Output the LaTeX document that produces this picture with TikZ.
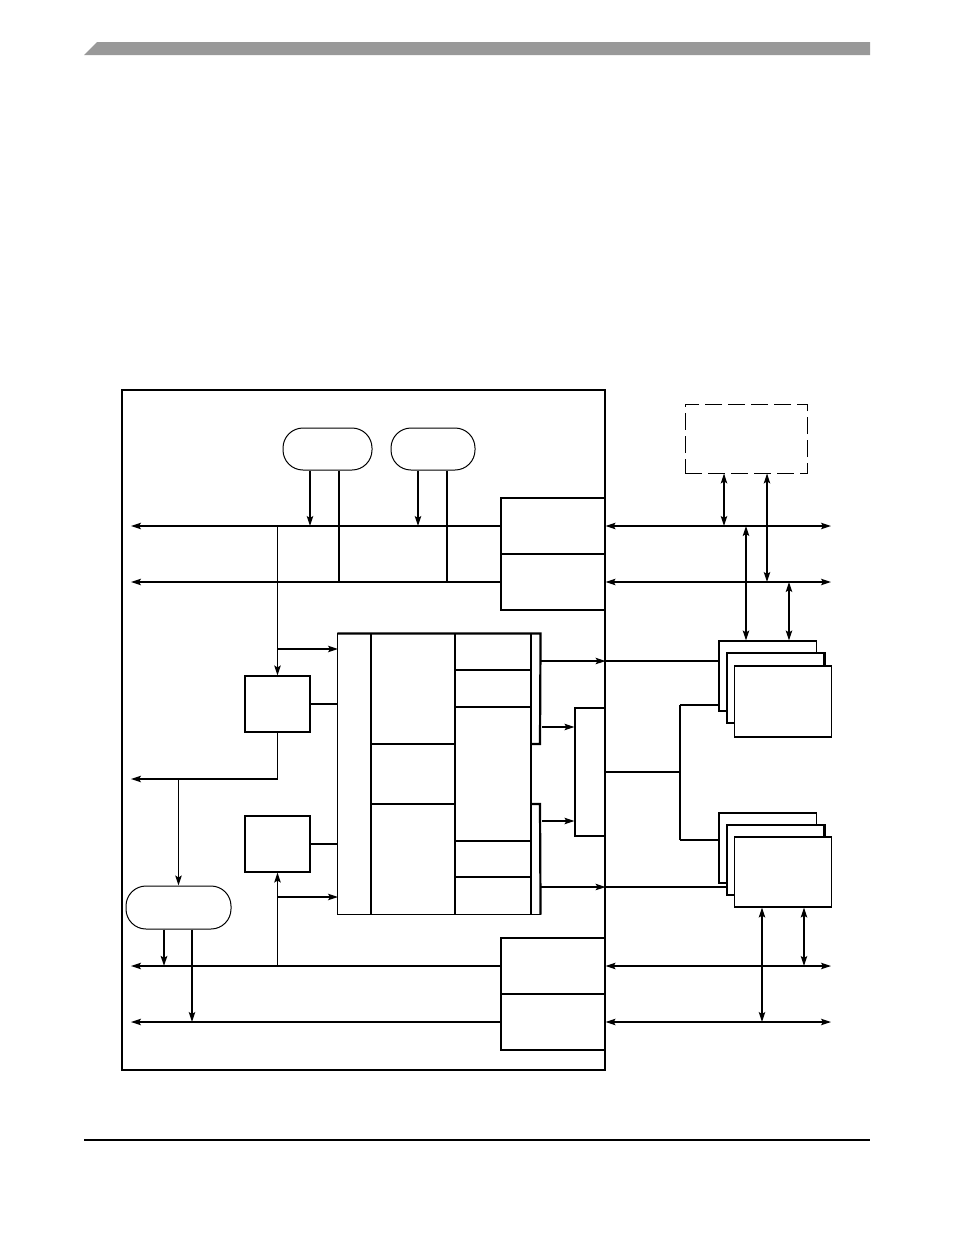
\documentclass[tikz,border=0pt]{standalone}
\usetikzlibrary{arrows.meta, calc}
\definecolor{hdrgray}{HTML}{999999}
\tikzset{
  blk/.style={draw, line width=1.1pt, fill=white, inner sep=0pt},
  pill/.style={blk, line width=1pt, rounded corners=20pt},
  heavy/.style={line width=2.2pt},
}

\begin{document}
\begin{tikzpicture}[x=1pt, y=-1pt, >={Stealth[length=10pt, width=6.5pt, inset=2pt]}, line width=1.1pt]
\useasboundingbox (0,0) rectangle (954,1235);

% Page header and footer
\fill[hdrgray] (84,55) -- (97,42) -- (870,42) -- (870,55) -- cycle;
\draw[line width=1.4pt] (84,1140) -- (870,1140);

% Outer device box
\node[blk, minimum width=483pt, minimum height=680pt] (outer) at (363.5,730) {};

% Free ends of the buses
\coordinate (tipL) at (131,0);
\coordinate (tipR) at (831,0);

% Top pills
\node[pill, minimum width=89pt, minimum height=42pt] (ovalA) at (327.5,449) {};
\node[pill, minimum width=84pt, minimum height=42pt] (ovalB) at (433,449) {};

% Port boxes
\node[blk, minimum width=104pt, minimum height=56pt] (portA) at (553,526) {};
\node[blk, minimum width=104pt, minimum height=56pt] (portB) at (553,582) {};
\node[blk, minimum width=104pt, minimum height=56pt] (portC) at (553,966) {};
\node[blk, minimum width=104pt, minimum height=56pt] (portD) at (553,1022) {};

% Internal buses
\draw[->] (portA.west) -- (portA.west -| tipL);
\draw[->] (portB.west) -- (portB.west -| tipL);
\draw[->] (portC.west) -- (portC.west -| tipL);
\draw[->] (portD.west) -- (portD.west -| tipL);

% External buses
\draw[<->] (portA.east) -- (portA.east -| tipR);
\draw[<->] (portB.east) -- (portB.east -| tipR);
\draw[<->] (portC.east) -- (portC.east -| tipR);
\draw[<->] (portD.east) -- (portD.east -| tipR);

% Pill taps
\draw[->] ([xshift=-17.5pt]ovalA.south) -- ([xshift=-17.5pt]ovalA.south |- portA.west);
\draw ([xshift=11.5pt]ovalA.south) -- ([xshift=11.5pt]ovalA.south |- portB.west);
\draw[->] ([xshift=-15pt]ovalB.south) -- ([xshift=-15pt]ovalB.south |- portA.west);
\draw ([xshift=14pt]ovalB.south) -- ([xshift=14pt]ovalB.south |- portB.west);

% Control boxes
\node[blk, minimum width=65pt, minimum height=56pt] (ctlA) at (277.5,704) {};
\node[blk, minimum width=65pt, minimum height=56pt] (ctlB) at (277.5,844) {};
\node[pill, minimum width=105pt, minimum height=43pt] (ovalC) at (178.5,907.5) {};

% Core block
\node[minimum width=202pt, minimum height=280pt, inner sep=0pt] (core) at (439,774) {};
\draw (core.north west) -- (core.south west) -- (core.south east);
\foreach \cx in {371,455,531} \draw (\cx,634) -- (\cx,914);
\foreach \cy in {670,707,841,877} \draw (455,\cy) -- (531,\cy);
\draw[heavy] (core.north west) -- (core.north east) -- (540,744) -- (531,744);
\draw[heavy] (531,804) -- (540,804) -- (core.south east);
\draw[heavy] (371,744) -- (455,744) (371,804) -- (455,804);

% Selector
\node[blk, minimum width=30pt, minimum height=128pt] (mux) at (590,772) {};

% Left side wiring
\coordinate (cIn) at (338,649);
\coordinate (cIn2) at (338,897);
\coordinate (ytap) at (178.5,779);
\draw[->] (ctlA.north |- portA.west) -- (ctlA.north);
\draw[->] (ctlA.north |- cIn) -- (cIn);
\draw (ctlA.east) -- (ctlA.east -| core.west);
\draw[->] (ctlA.south) |- (ytap -| tipL);
\draw[->] (ytap) -- (ovalC.north);
\draw[->] (ctlB.south |- portC.west) -- (ctlB.south);
\draw[->] (ctlB.south |- cIn2) -- (cIn2);
\draw (ctlB.east) -- (ctlB.east -| core.west);
\draw[->, heavy] ([xshift=-14.5pt]ovalC.south) -- ([xshift=-14.5pt]ovalC.south |- portC.west);
\draw[->] ([xshift=13.5pt]ovalC.south) -- ([xshift=13.5pt]ovalC.south |- portD.west);

% Dashed external box
\node[draw, line width=0.9pt, dash pattern=on 17pt off 6pt, minimum width=122pt, minimum height=69pt] (ext) at (746,438.5) {};
\draw[<->] ([xshift=-22pt]ext.south) -- ([xshift=-22pt]ext.south |- portA.east);
\draw[<->] ([xshift=21pt]ext.south) -- ([xshift=21pt]ext.south |- portB.east);

% Stacked devices, upper
\node[blk, minimum width=97pt, minimum height=70pt] (sA1) at (768,676) {};
\node[blk, minimum width=97pt, minimum height=70pt] (sA2) at (775.5,688) {};
\node[blk, minimum width=97pt, minimum height=71pt] (sA3) at (783,701.5) {};
\draw[heavy] (sA1.north west) -- (sA1.south west);
\draw[heavy] (sA2.north east) -- (sA2.east |- sA3.north);

% Stacked devices, lower
\node[blk, minimum width=97pt, minimum height=70pt] (sB1) at (768,848) {};
\node[blk, minimum width=97pt, minimum height=70pt] (sB2) at (775.5,860) {};
\node[blk, minimum width=97pt, minimum height=70pt] (sB3) at (783,872) {};
\draw[heavy] (sB1.north west) -- (sB1.south west);
\draw[heavy] (sB2.north east) -- (sB2.east |- sB3.north);

% Device links to buses
\draw[<->] ([xshift=-22pt]sA1.north |- portA.east) -- ([xshift=-22pt]sA1.north);
\draw[<->] ([xshift=21pt]sA1.north |- portB.east) -- ([xshift=21pt]sA1.north);
\draw[<->] ([xshift=-21pt]sB3.south) -- ([xshift=-21pt]sB3.south |- portD.east);
\draw[<->] ([xshift=21pt]sB3.south) -- ([xshift=21pt]sB3.south |- portC.east);

% Core outputs
\coordinate (oA) at (540,661);
\coordinate (oB) at (540,887);
\draw[->] (oA) -- (oA -| outer.east);
\draw (oA -| outer.east) -- (oA -| sA1.west);
\draw[->] (oB) -- (oB -| outer.east);
\draw (oB -| outer.east) -- (oB -| sB2.west);
\coordinate (mA) at (542,727);
\coordinate (mB) at (542,821);
\draw[->] (mA) -- (mA -| mux.west);
\draw[->] (mB) -- (mB -| mux.west);

% Selector fan-out
\coordinate (jA) at (680,705);
\coordinate (jB) at (680,840);
\draw (mux.east) -- (mux.east -| jA);
\draw[heavy] (jA) -- (jB);
\draw (jA) -- (jA -| sA1.west);
\draw (jB) -- (jB -| sB1.west);

\end{tikzpicture}
\end{document}
